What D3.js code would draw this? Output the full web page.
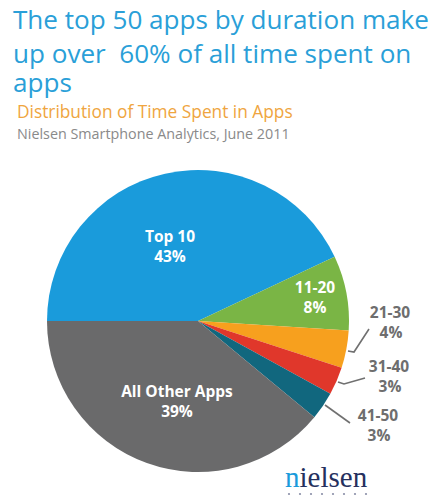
<!DOCTYPE html>
<html><head><meta charset="utf-8">
<script src="https://cdn.jsdelivr.net/npm/d3@7"></script>
<style>html,body{margin:0;padding:0;background:#fff;}svg{display:block;}</style>
</head><body>
<svg id="chart" width="434" height="498"></svg>
<script>
// ---- data ----
const categories = ["Top 10", "11-20", "21-30", "31-40", "41-50", "All Other Apps"];
const shares = [43, 8, 4, 3, 3, 39];
const percentLabels = ["43%", "8%", "4%", "3%", "3%", "39%"];
const sliceColors = ["#1a9bdb", "#7ab545", "#f7a01e", "#e0372b", "#11677e", "#6a6a6b"];
const titleLines = ["The top 50 apps by duration make", "up over  60% of all time spent on", "apps"];
const subtitle = "Distribution of Time Spent in Apps";
const sourceText = "Nielsen Smartphone Analytics, June 2011";

// ---- layout (not data) ----
const cx = 198, cy = 321, R = 151;
const insideLabels = { "Top 10": [170, 242], "11-20": [315, 293], "All Other Apps": [177, 397] };
const outsideLabels = {
  "21-30": { text: [390, 318], line: [[348, 351], [354, 352], [369, 329]] },
  "31-40": { text: [389, 372], line: [[338, 382], [344, 384], [365, 378]] },
  "41-50": { text: [378, 421], line: [[325, 405], [350, 423]] }
};

const svg = d3.select("#chart");
const font = "'Open Sans', 'DejaVu Sans', sans-serif";

// fit a text's font size to a target width
function fitText(sel, targetW) {
  const w = sel.node().getComputedTextLength();
  const fs = parseFloat(sel.attr("font-size"));
  sel.attr("font-size", fs * targetW / w);
  return fs * targetW / w;
}

// title
const titleY = [29, 63, 92];
const tNodes = titleLines.map((t, i) => svg.append("text").attr("x", 13).attr("y", titleY[i])
    .attr("font-family", font).attr("font-size", 24).attr("fill", "#2a9fd8")
    .style("white-space", "pre").text(t));
const tfs = fitText(tNodes[0], 416);
tNodes.forEach(n => n.attr("font-size", tfs));

const sub = svg.append("text").attr("x", 17).attr("y", 118).attr("font-family", font)
  .attr("font-size", 15).attr("fill", "#efa540").text(subtitle);
fitText(sub, 276);
const src = svg.append("text").attr("x", 17).attr("y", 139).attr("font-family", font)
  .attr("font-size", 13).attr("fill", "#8a8a8a").text(sourceText);
fitText(src, 273);

// pie
const data = categories.map((c, i) => ({ cat: c, value: shares[i], pct: percentLabels[i], color: sliceColors[i] }));
const pie = d3.pie().sort(null).value(d => d.value).startAngle(-Math.PI / 2).endAngle(1.5 * Math.PI);
const arc = d3.arc().innerRadius(0).outerRadius(R);
const g = svg.append("g").attr("transform", `translate(${cx},${cy})`);
g.selectAll("path").data(pie(data)).join("path")
  .attr("d", arc).attr("fill", d => d.data.color);

// inside labels
data.filter(d => insideLabels[d.cat]).forEach(d => {
  const [x, y] = insideLabels[d.cat];
  const t = svg.append("text").attr("text-anchor", "middle").attr("font-family", font)
    .attr("font-weight", 700).attr("font-size", 15.5).attr("fill", "#fff");
  t.append("tspan").attr("x", x).attr("y", y).text(d.cat);
  t.append("tspan").attr("x", x).attr("y", y + 20).text(d.pct);
});

// outside labels with leader lines
const line = d3.line();
data.filter(d => outsideLabels[d.cat]).forEach(d => {
  const o = outsideLabels[d.cat];
  svg.append("path").attr("d", line(o.line)).attr("fill", "none")
    .attr("stroke", "#707070").attr("stroke-width", 1.6);
  const t = svg.append("text").attr("text-anchor", "middle").attr("font-family", font)
    .attr("font-weight", 700).attr("font-size", 15.5).attr("fill", "#6e6e6e");
  t.append("tspan").attr("x", o.text[0]).attr("y", o.text[1]).text(d.cat);
  t.append("tspan").attr("x", o.text[0] + 1).attr("y", o.text[1] + 20).text(d.pct);
});

// nielsen logo
const logo = svg.append("text").attr("x", 285).attr("y", 487)
  .attr("font-family", "'Liberation Serif', 'DejaVu Serif', serif").attr("font-size", 29).attr("fill", "#25305e");
logo.append("tspan").attr("fill", "#1a9bdb").text("n");
logo.append("tspan").text("ielsen");
svg.append("g").selectAll("circle").data(d3.range(8)).join("circle")
  .attr("cx", i => 289 + i * 11).attr("cy", 494).attr("r", 1.1).attr("fill", "#8a8fa8");
</script>
</body></html>
